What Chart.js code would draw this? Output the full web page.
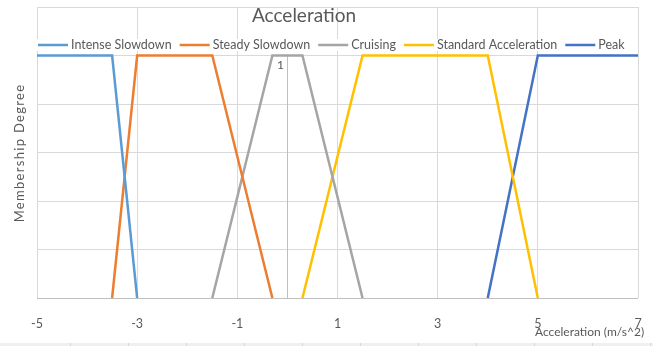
<!DOCTYPE html>
<html>
<head>
<meta charset="utf-8">
<script src="https://cdn.jsdelivr.net/npm/chart.js@4/dist/chart.umd.min.js"></script>
<style>
  html, body { margin: 0; padding: 0; background: #fff; }
  #wrap { position: relative; width: 653px; height: 346px; }
  #strip { position: absolute; left: 0; top: 343px; width: 653px; height: 3px;
           background: repeating-linear-gradient(90deg, #f0f0f0 0 57px, #d8d8d8 57px 58px);
           background-position: 13px 0; }
</style>
</head>
<body>
<div id="wrap">
  <canvas id="c" width="653" height="346"></canvas>
  <div id="strip"></div>
</div>
<script>
// Membership functions for acceleration (m/s^2)
const seriesNames = ['Intense Slowdown', 'Steady Slowdown', 'Cruising', 'Standard Acceleration', 'Peak'];

const intenseX  = [-5, -3.5, -3];
const intenseY  = [1, 1, 0];
const steadyX   = [-3.5, -3, -1.5, -0.3];
const steadyY   = [0, 1, 1, 0];
const cruiseX   = [-1.5, -0.3, 0.3, 1.5];
const cruiseY   = [0, 1, 1, 0];
const standardX = [0.3, 1.5, 4, 5];
const standardY = [0, 1, 1, 0];
const peakX     = [4, 5, 7];
const peakY     = [0, 1, 1];

const xTicks = [-5, -3, -1, 1, 3, 5, 7];

const colors = ['#5B9BD5', '#ED7D31', '#A5A5A5', '#FFC000', '#4472C4'];
const FONT = 'Lato, "Open Sans", sans-serif';
const TEXT = '#595959';

const pts = (xs, ys) => xs.map((x, i) => ({ x: x, y: ys[i] }));
const allX = [intenseX, steadyX, cruiseX, standardX, peakX];
const allY = [intenseY, steadyY, cruiseY, standardY, peakY];

const datasets = seriesNames.map((name, i) => ({
  label: name,
  data: pts(allX[i], allY[i]),
  borderColor: colors[i],
  backgroundColor: colors[i],
  borderWidth: 2.5,
  showLine: true,
  pointRadius: 0,
  tension: 0
}));

// Axis line at x = 0, title, legend and axis captions
const decor = {
  id: 'decor',
  beforeDatasetsDraw(chart) {
    const ctx = chart.ctx, xs = chart.scales.x, ys = chart.scales.y;
    const x0 = Math.round(xs.getPixelForValue(0)) + 0.5;
    ctx.save();
    ctx.strokeStyle = '#bfbfbf';
    ctx.lineWidth = 1;
    ctx.beginPath();
    ctx.moveTo(x0, ys.getPixelForValue(0));
    ctx.lineTo(x0, ys.getPixelForValue(1));
    ctx.stroke();
    const yb = Math.round(ys.getPixelForValue(0)) + 0.5;
    ctx.beginPath();
    ctx.moveTo(xs.left, yb);
    ctx.lineTo(xs.right, yb);
    ctx.stroke();
    ctx.restore();
  },
  afterDraw(chart) {
    const ctx = chart.ctx, xs = chart.scales.x, ys = chart.scales.y;
    ctx.save();
    // value label on the vertical axis
    ctx.fillStyle = TEXT;
    ctx.font = '12px ' + FONT;
    ctx.textAlign = 'center';
    ctx.textBaseline = 'middle';
    ctx.fillText('1', xs.getPixelForValue(0) - 7, ys.getPixelForValue(1) + 10);

    // legend
    ctx.font = '12.5px ' + FONT;
    ctx.textAlign = 'left';
    const ly = 45;
    let x = 38;
    ctx.fillStyle = '#fff';
    ctx.fillRect(34, ly - 6, 598, 12);
    chart.data.datasets.forEach(ds => {
      ctx.strokeStyle = ds.borderColor;
      ctx.lineWidth = 2.5;
      ctx.beginPath();
      ctx.moveTo(x, ly);
      ctx.lineTo(x + 30, ly);
      ctx.stroke();
      ctx.fillStyle = TEXT;
      ctx.fillText(ds.label, x + 33, ly);
      x += 33 + ctx.measureText(ds.label).width + 8;
    });

    // chart title
    ctx.font = '19px ' + FONT;
    ctx.textAlign = 'center';
    ctx.fillText('Acceleration', 304, 16);

    // x axis title
    ctx.font = '12px ' + FONT;
    ctx.textAlign = 'left';
    ctx.fillText('Acceleration (m/s^2)', 535, 332);

    // y axis title
    ctx.translate(20, 153);
    ctx.rotate(-Math.PI / 2);
    ctx.font = '13px ' + FONT;
    ctx.textAlign = 'center';
    if ('letterSpacing' in ctx) ctx.letterSpacing = '1.3px';
    ctx.fillText('Membership Degree', 0, 0);
    ctx.restore();
  }
};

new Chart(document.getElementById('c'), {
  type: 'scatter',
  data: { datasets: datasets },
  options: {
    responsive: false,
    animation: false,
    layout: { padding: { left: 37, right: 15, top: 7, bottom: 0 } },
    plugins: { legend: { display: false }, title: { display: false }, tooltip: { enabled: false } },
    scales: {
      x: {
        type: 'linear',
        min: -5, max: 7,
        afterBuildTicks: s => { s.ticks = xTicks.map(v => ({ value: v })); },
        afterFit: s => { s.height = 48; s.paddingRight = 0; s.paddingLeft = 0; },
        ticks: { color: TEXT, font: { family: FONT, size: 12.5 }, padding: 18, maxRotation: 0 },
        grid: { color: '#d9d9d9', lineWidth: 1, drawTicks: false },
        border: { display: false }
      },
      y: {
        min: 0, max: 1.2,
        ticks: { display: false, stepSize: 0.2 },
        afterFit: s => { s.width = 0; },
        grid: { color: '#d9d9d9', lineWidth: 1, drawTicks: false },
        border: { display: false }
      }
    }
  },
  plugins: [decor]
});
</script>
</body>
</html>
